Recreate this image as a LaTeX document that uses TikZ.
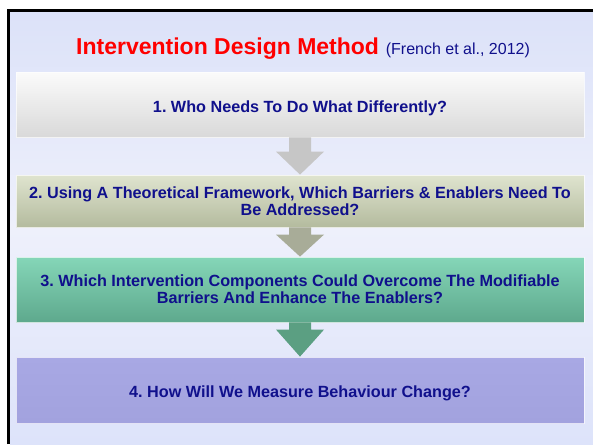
\documentclass[tikz,border=0pt]{standalone}
\usepackage{fontspec}
\setmainfont{Liberation Sans}
\usetikzlibrary{calc}

\definecolor{navy}{HTML}{10108C}
\definecolor{titlered}{HTML}{FF0000}
\definecolor{bgtop}{HTML}{DCE2F9}
\definecolor{bgmid}{HTML}{EEF0FB}
\definecolor{bgbot}{HTML}{DDE3FA}
\definecolor{oneTop}{HTML}{FBFBFB}
\definecolor{oneBot}{HTML}{D9D9D9}
\definecolor{twoTop}{HTML}{DFE4CF}
\definecolor{twoBot}{HTML}{B4BB9E}
\definecolor{threeTop}{HTML}{85D6B8}
\definecolor{threeBot}{HTML}{5EA98D}
\definecolor{fourTop}{HTML}{A8A8E4}
\definecolor{fourBot}{HTML}{A2A2DE}
\definecolor{arrowOne}{HTML}{C6C6C6}
\definecolor{arrowTwo}{HTML}{A8AC98}
\definecolor{arrowThree}{HTML}{5B9F82}

% downward block arrow from the bottom of one step to the top of the next
\newcommand\flowarrow[4]{%
  \fill[#4]
    ($(#1.south)+(-11,0)$) -- ($(#1.south)+(11,0)$)
    -- ($(#2.north)+(11,-#3)$) -- ($(#2.north)+(24,-#3)$)
    -- (#2.north)
    -- ($(#2.north)+(-24,-#3)$) -- ($(#2.north)+(-11,-#3)$) -- cycle;}

\tikzset{
  stepbox/.style={minimum width=568pt, inner sep=0pt, text width=560pt,
    align=flush center, text=navy,
    font=\fontsize{16.2}{17}\selectfont\bfseries\frenchspacing,
    draw=white, draw opacity=0.7, line width=0.8pt},
  oneline/.style={text height=15pt, text depth=0pt},
}

\begin{document}
\frenchspacing
\begin{tikzpicture}[x=1pt,y=-1pt]
\useasboundingbox (0,0) rectangle (593,444);
\fill[white] (0,0) rectangle (593,444);

% slide background and its frame
\shade[top color=bgtop, bottom color=bgbot, middle color=bgmid]
  (10,12.5) rectangle (593,444);
\draw[line width=3pt, line join=miter] (8.5,444) -- (8.5,11) -- (593,11);

% heading
\node[anchor=base west, inner sep=0pt] (title) at (76,54.5)
  {{\color{titlered}\fontsize{23}{27}\selectfont\bfseries Intervention Design Method}\hspace{4pt}
   {\color{navy}\fontsize{16}{18}\selectfont (French et al., 2012)}};

% the four steps
\node[stepbox, oneline, minimum height=65pt, top color=oneTop, bottom color=oneBot]
  (s1) at (300,104.5) {1. Who Needs To Do What Differently?};
\node[stepbox, minimum height=52pt, top color=twoTop, bottom color=twoBot]
  (s2) at (300,201) {2. Using A Theoretical Framework, Which Barriers \& Enablers Need To\\ Be Addressed?};
\node[stepbox, minimum height=65pt, top color=threeTop, bottom color=threeBot]
  (s3) at (300,289.5) {3. Which Intervention Components Could Overcome The Modifiable\\ Barriers And Enhance The Enablers?};
\node[stepbox, oneline, minimum height=66pt, top color=fourTop, bottom color=fourBot]
  (s4) at (300,390) {4. How Will We Measure Behaviour Change?};

% arrows between the steps
\flowarrow{s1}{s2}{23}{arrowOne}
\flowarrow{s2}{s3}{22}{arrowTwo}
\flowarrow{s3}{s4}{27}{arrowThree}
\end{tikzpicture}
\end{document}
